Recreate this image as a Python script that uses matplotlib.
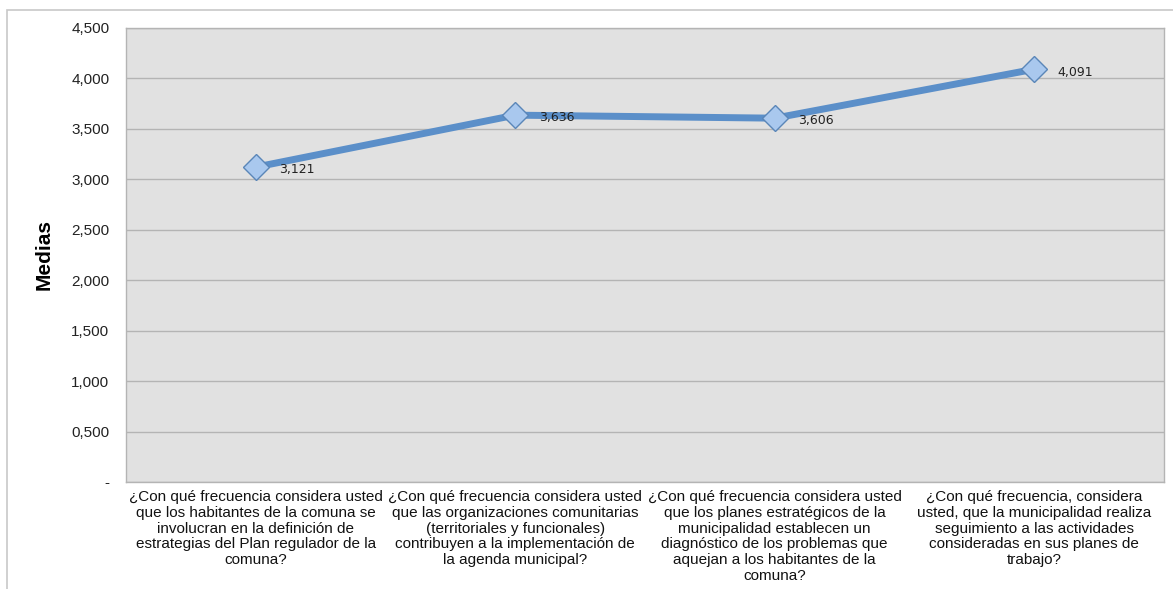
import numpy as np
import matplotlib.pyplot as plt
from matplotlib.patches import Rectangle
from matplotlib.ticker import FuncFormatter

# ----------------------------
# Data
# ----------------------------

categories = [
    "¿Con qué frecuencia considera usted\nque los habitantes de la comuna se\ninvolucran en la definición de\nestrategias del Plan regulador de la\ncomuna?",
    "¿Con qué frecuencia considera usted\nque las organizaciones comunitarias\n(territoriales y funcionales)\ncontribuyen a la implementación de\nla agenda municipal?",
    "¿Con qué frecuencia considera usted\nque los planes estratégicos de la\nmunicipalidad establecen un\ndiagnóstico de los problemas que\naquejan a los habitantes de la\ncomuna?",
    "¿Con qué frecuencia, considera\nusted, que la municipalidad realiza\nseguimiento a las actividades\nconsideradas en sus planes de\ntrabajo?",
]
medias = [3.121, 3.636, 3.606, 4.091]
y_ticks = [0, 0.5, 1.0, 1.5, 2.0, 2.5, 3.0, 3.5, 4.0, 4.5]

# ----------------------------
# Plot
# ----------------------------

plt.rcParams["font.family"] = ["Liberation Sans", "DejaVu Sans"]

fig = plt.figure(figsize=(11.73, 5.89), dpi=100)
ax = fig.add_axes([0.1074, 0.1817, 0.8849, 0.7708])

# outer chart border
fig.patches.append(Rectangle((7 / 1173, -0.01), 1.0, 1 - 10 / 589 + 0.01,
                             transform=fig.transFigure, fill=False,
                             edgecolor="#c8c8c8", linewidth=1.2))

ax.set_facecolor("#e1e1e1")
for s in ax.spines.values():
    s.set_color("#b4b4b4")
    s.set_linewidth(1.0)

x = np.arange(len(medias))
ax.plot(x, medias, color="#5b8fc9", linewidth=5, solid_capstyle="round",
        marker="D", markersize=13, markerfacecolor="#a9c8ee",
        markeredgecolor="#5a86b8", markeredgewidth=1.0, zorder=3)

for xi, v in zip(x, medias):
    label = f"{v:.3f}".replace(".", ",")
    ax.annotate(label, (xi, v), xytext=(17, -2), textcoords="offset points",
                ha="left", va="center", fontsize=9, family="DejaVu Sans",
                color="#222222")

ax.set_xlim(-0.5, 3.5)
ax.set_ylim(0, 4.5)
ax.set_yticks(y_ticks)
ax.yaxis.set_major_formatter(FuncFormatter(
    lambda v, p: "-" if v == 0 else f"{v:.3f}".replace(".", ",")))
ax.grid(axis="y", color="#b4b4b4", linewidth=1.0)
ax.set_axisbelow(True)
ax.tick_params(axis="y", length=0, pad=12, labelsize=11, colors="#222222")

ax.set_xticks(x)
ax.set_xticklabels(categories, fontsize=11, linespacing=1.15)
ax.tick_params(axis="x", length=0, pad=6, colors="#111111")

ax.set_ylabel("Medias", fontsize=15, fontweight="bold", labelpad=13)

fig.savefig("out.png", dpi=100)
